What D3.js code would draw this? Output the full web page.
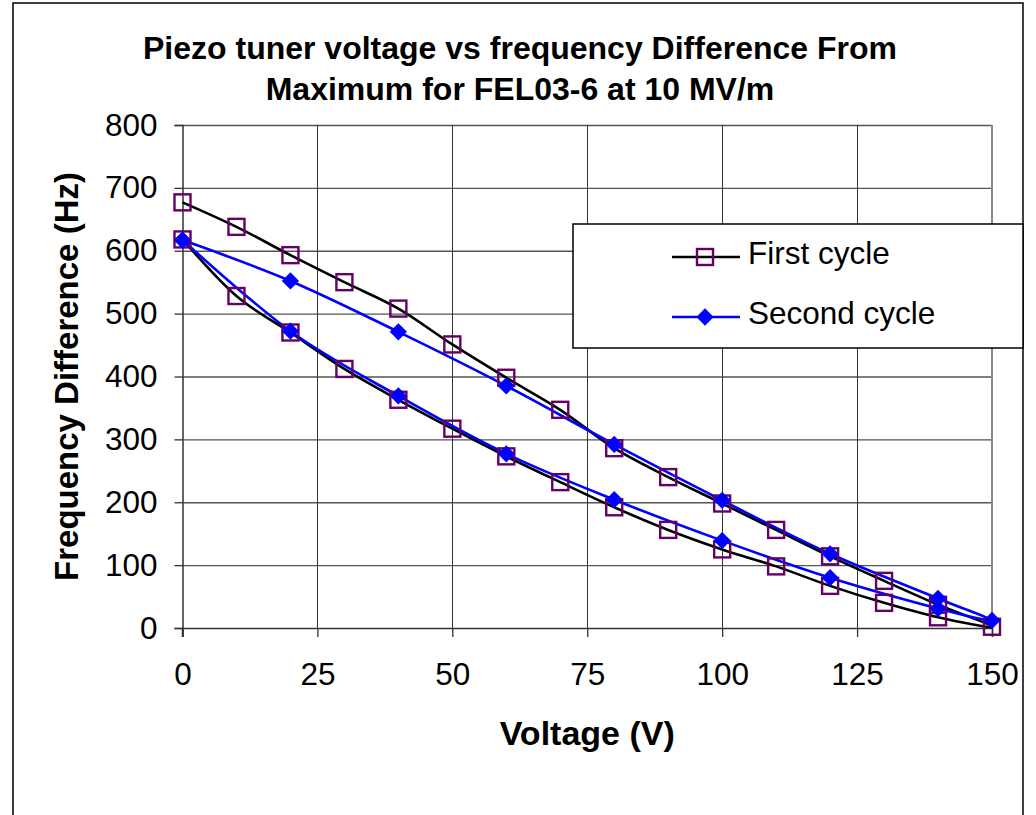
<!DOCTYPE html>
<html>
<head>
<meta charset="utf-8">
<script src="https://cdn.jsdelivr.net/npm/d3@7"></script>
<style>
  html, body { margin: 0; padding: 0; background: #fff; }
  svg { display: block; font-family: "Liberation Sans", Arial, sans-serif; }
</style>
</head>
<body>
<svg id="chart" width="1036" height="815"></svg>
<script>
// ---- data ----
const titleLines = ["Piezo tuner voltage vs frequency Difference From", "Maximum for FEL03-6 at 10 MV/m"];
const xTitle = "Voltage (V)";
const yTitle = "Frequency Difference (Hz)";
const xTicks = [0, 25, 50, 75, 100, 125, 150];
const yTicks = [0, 100, 200, 300, 400, 500, 600, 700, 800];
const seriesNames = ["First cycle", "Second cycle"];

// First cycle: up the voltage on the upper branch, back on the lower branch
const firstVolts = [0, 10, 20, 30, 40, 50, 60, 70, 80, 90, 100, 110, 120, 130, 140, 150,
                    140, 130, 120, 110, 100, 90, 80, 70, 60, 50, 40, 30, 20, 10, 0];
const firstHz    = [677, 638, 593, 550, 508, 451, 398, 347, 286, 240, 198, 156, 114, 75, 37, 2,
                    17, 40, 67, 98, 125, 156, 192, 232, 273, 317, 363, 412, 470, 528, 618];

// Second cycle
const secondVolts = [0, 20, 40, 60, 80, 100, 120, 140, 150, 140, 120, 100, 80, 60, 40, 20, 0];
const secondHz    = [617, 552, 471, 385, 292, 203, 118, 47, 12, 31, 80, 139, 204, 277, 369, 472, 617];

// ---- drawing ----
const svg = d3.select("#chart");
const W = 1036, H = 815;
svg.append("rect").attr("width", W).attr("height", H).attr("fill", "#fff");
// outer chart frame
svg.append("rect").attr("x", 13).attr("y", 3).attr("width", 1010).attr("height", 840)
  .attr("fill", "none").attr("stroke", "#000").attr("stroke-width", 1.5);

const x = d3.scaleLinear().domain([0, 150]).range([182.5, 992]);
const y = d3.scaleLinear().domain([0, 800]).range([628, 125]);

// gridlines
const grid = svg.append("g");
grid.selectAll("line.h").data(yTicks.filter(v => v > 0)).join("line")
  .attr("x1", x(0)).attr("x2", x(150))
  .attr("y1", d => y(d) + 0.5).attr("y2", d => y(d) + 0.5)
  .attr("stroke", "#555").attr("stroke-width", 1.3);
grid.selectAll("line.v").data(xTicks.filter(v => v > 0 && v < 150)).join("line")
  .attr("x1", d => Math.round(x(d)) + 0.5).attr("x2", d => Math.round(x(d)) + 0.5)
  .attr("y1", y(800)).attr("y2", y(0))
  .attr("stroke", "#333").attr("stroke-width", 1);
// right plot border
grid.append("line").attr("x1", x(150)).attr("x2", x(150)).attr("y1", y(800)).attr("y2", y(0))
  .attr("stroke", "#888").attr("stroke-width", 2);

// axes
const fontSize = 31.5;
const yAxis = svg.append("g").attr("transform", `translate(${x(0)},0)`)
  .call(d3.axisLeft(y).tickValues(yTicks).tickSize(8).tickPadding(17).tickFormat(d3.format("d")));
const xAxis = svg.append("g").attr("transform", `translate(0,${y(0)})`)
  .call(d3.axisBottom(x).tickValues(xTicks).tickSize(9).tickPadding(26).tickFormat(d3.format("d")));
[yAxis, xAxis].forEach(a => {
  a.selectAll("text").attr("font-size", fontSize).attr("fill", "#000")
    .attr("font-family", "'Liberation Sans', Arial, sans-serif");
  a.selectAll("line").attr("stroke", "#333").attr("stroke-width", 1.3);
  a.select(".domain").attr("stroke", "#333").attr("stroke-width", 1.5);
});
// extend y axis line down to x tick length
svg.append("line").attr("x1", x(0)).attr("x2", x(0)).attr("y1", y(0)).attr("y2", y(0) + 9)
  .attr("stroke", "#333").attr("stroke-width", 1.5);

// lines
const pts1 = firstVolts.map((v, i) => [v, firstHz[i]]);
const pts2 = secondVolts.map((v, i) => [v, secondHz[i]]);
const lineGen = d3.line().x(d => x(d[0])).y(d => y(d[1])).curve(d3.curveCardinal.tension(0));

const plot = svg.append("g");
plot.append("path").attr("d", lineGen(pts1)).attr("fill", "none")
  .attr("stroke", "#000").attr("stroke-width", 2.6).attr("stroke-linejoin", "round");
plot.append("path").attr("d", lineGen(pts2)).attr("fill", "none")
  .attr("stroke", "#0000ff").attr("stroke-width", 2.6).attr("stroke-linejoin", "round");

// markers
const sq = 16;
plot.selectAll("rect.m1").data(pts1).join("rect")
  .attr("x", d => x(d[0]) - sq / 2).attr("y", d => y(d[1]) - sq / 2)
  .attr("width", sq).attr("height", sq)
  .attr("fill", "none").attr("stroke", "#660066").attr("stroke-width", 2.4);
const diamond = d3.symbol().type(d3.symbolDiamond2).size(190);
plot.selectAll("path.m2").data(pts2).join("path")
  .attr("d", diamond)
  .attr("transform", d => `translate(${x(d[0])},${y(d[1])})`)
  .attr("fill", "#0000ff");

// titles
const title = svg.append("g").attr("font-weight", "bold").attr("font-size", 32).attr("text-anchor", "middle");
title.selectAll("text").data(titleLines).join("text")
  .attr("x", 520).attr("y", (d, i) => 59 + i * 41).text(d => d);

svg.append("text").attr("x", (x(0) + x(150)) / 2).attr("y", 745)
  .attr("text-anchor", "middle").attr("font-weight", "bold").attr("font-size", 34).text(xTitle);
svg.append("text").attr("transform", `translate(78,${(y(0) + y(800)) / 2}) rotate(-90)`)
  .attr("text-anchor", "middle").attr("font-weight", "bold").attr("font-size", 33).text(yTitle);

// legend
const lg = svg.append("g");
lg.append("rect").attr("x", 573).attr("y", 224).attr("width", 450).attr("height", 124)
  .attr("fill", "#fff").attr("stroke", "#000").attr("stroke-width", 1.5);
const rows = [257, 317];
rows.forEach((ry, i) => {
  lg.append("line").attr("x1", 672).attr("x2", 740).attr("y1", ry).attr("y2", ry)
    .attr("stroke", i === 0 ? "#000" : "#0000ff").attr("stroke-width", 2.6);
  if (i === 0) {
    lg.append("rect").attr("x", 705 - sq / 2).attr("y", ry - sq / 2).attr("width", sq).attr("height", sq)
      .attr("fill", "none").attr("stroke", "#660066").attr("stroke-width", 2.4);
  } else {
    lg.append("path").attr("d", diamond).attr("transform", `translate(705,${ry})`).attr("fill", "#0000ff");
  }
  lg.append("text").attr("x", 748).attr("y", ry + 7).attr("font-size", fontSize).text(seriesNames[i]);
});
</script>
</body>
</html>
